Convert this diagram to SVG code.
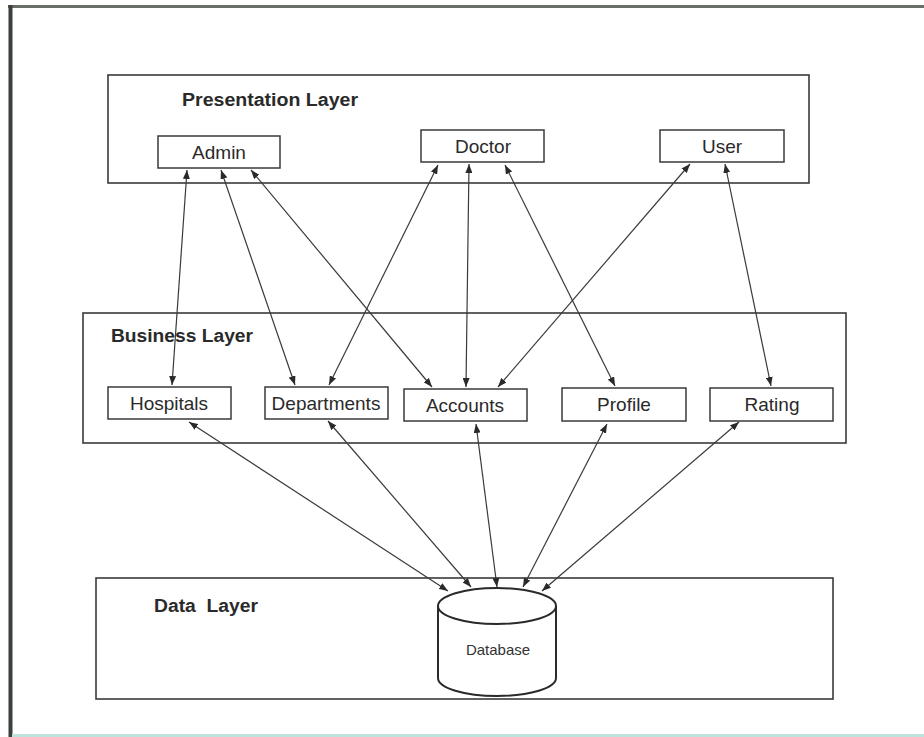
<svg xmlns="http://www.w3.org/2000/svg" width="924" height="737" viewBox="0 0 924 737">
<defs>
<marker id="ah" viewBox="0 0 9 7" refX="9" refY="3.5" markerWidth="9" markerHeight="7" markerUnits="userSpaceOnUse" orient="auto-start-reverse">
<path d="M0,0 L9,3.5 L0,7 z" fill="#2a2a2a"/>
</marker>
</defs>
<style>
.layer{fill:none;stroke:#3a3a3a;stroke-width:1.6}
.box{fill:#fff;stroke:#3a3a3a;stroke-width:1.5}
.title{font-family:"Liberation Sans",Arial,sans-serif;font-weight:bold;font-size:18px;fill:#2a2a2a}
.lbl{font-family:"Liberation Sans",Arial,sans-serif;font-size:19px;fill:#2a2a2a;text-anchor:middle}
.con{stroke:#3a3a3a;stroke-width:1.2;fill:none;marker-start:url(#ah);marker-end:url(#ah)}
</style>
<rect x="0" y="0" width="924" height="737" fill="#fff"/>
<!-- outer frame -->
<line x1="8" y1="6.5" x2="924" y2="6.5" stroke="#6b7066" stroke-width="3"/>
<line x1="10.5" y1="5" x2="10.5" y2="737" stroke="#3c403c" stroke-width="4"/>
<line x1="12" y1="735.5" x2="924" y2="735.5" stroke="#bfe3dc" stroke-width="3"/>

<g id="presentation-layer">
<rect class="layer" x="108" y="75" width="701" height="108"/>
<text class="title" x="182" y="106" textLength="176" lengthAdjust="spacingAndGlyphs">Presentation Layer</text>
</g>
<g id="business-layer">
<rect class="layer" x="83" y="313" width="763" height="130"/>
<text class="title" x="111" y="342" textLength="142" lengthAdjust="spacingAndGlyphs">Business Layer</text>
</g>
<g id="data-layer">
<rect class="layer" x="96" y="578" width="737" height="121"/>
<text class="title" x="154" y="612" textLength="104" lengthAdjust="spacingAndGlyphs" xml:space="preserve">Data  Layer</text>
</g>

<g id="admin"><rect class="box" x="158" y="136" width="122" height="32"/><text class="lbl" x="219" y="159">Admin</text></g>
<g id="doctor"><rect class="box" x="421" y="130" width="123" height="32"/><text class="lbl" x="483" y="153">Doctor</text></g>
<g id="user"><rect class="box" x="660" y="130" width="124" height="32"/><text class="lbl" x="722" y="153">User</text></g>

<g id="hospitals"><rect class="box" x="108" y="387" width="123" height="32"/><text class="lbl" x="169" y="410">Hospitals</text></g>
<g id="departments"><rect class="box" x="265" y="387" width="123" height="32"/><text class="lbl" x="326" y="410">Departments</text></g>
<g id="accounts"><rect class="box" x="404" y="389" width="123" height="32"/><text class="lbl" x="465" y="412">Accounts</text></g>
<g id="profile"><rect class="box" x="562" y="388" width="124" height="33"/><text class="lbl" x="624" y="411">Profile</text></g>
<g id="rating"><rect class="box" x="710" y="388" width="123" height="33"/><text class="lbl" x="772" y="411">Rating</text></g>

<g id="database">
<path d="M438,606 L438,678 A59,18 0 0 0 556,678 L556,606" fill="#fff" stroke="#2a2a2a" stroke-width="2"/>
<ellipse cx="497" cy="606" rx="59" ry="18" fill="#fff" stroke="#2a2a2a" stroke-width="2"/>
<text x="498" y="655" text-anchor="middle" font-family="'Liberation Sans',Arial,sans-serif" font-size="15" fill="#333">Database</text>
</g>

<g id="connectors">
<line class="con" x1="187" y1="170" x2="172" y2="385"/>
<line class="con" x1="221" y1="170" x2="295" y2="385"/>
<line class="con" x1="251" y1="170" x2="432" y2="387"/>
<line class="con" x1="438" y1="165" x2="329" y2="385"/>
<line class="con" x1="469" y1="164" x2="466" y2="387"/>
<line class="con" x1="505" y1="165" x2="615" y2="386"/>
<line class="con" x1="690" y1="164" x2="498" y2="387"/>
<line class="con" x1="725" y1="164" x2="771" y2="386"/>
<line class="con" x1="189" y1="422" x2="448" y2="591"/>
<line class="con" x1="328" y1="421" x2="471" y2="587"/>
<line class="con" x1="476" y1="424" x2="497" y2="587"/>
<line class="con" x1="607" y1="424" x2="523" y2="587"/>
<line class="con" x1="739" y1="422" x2="542" y2="591"/>
</g>
</svg>
